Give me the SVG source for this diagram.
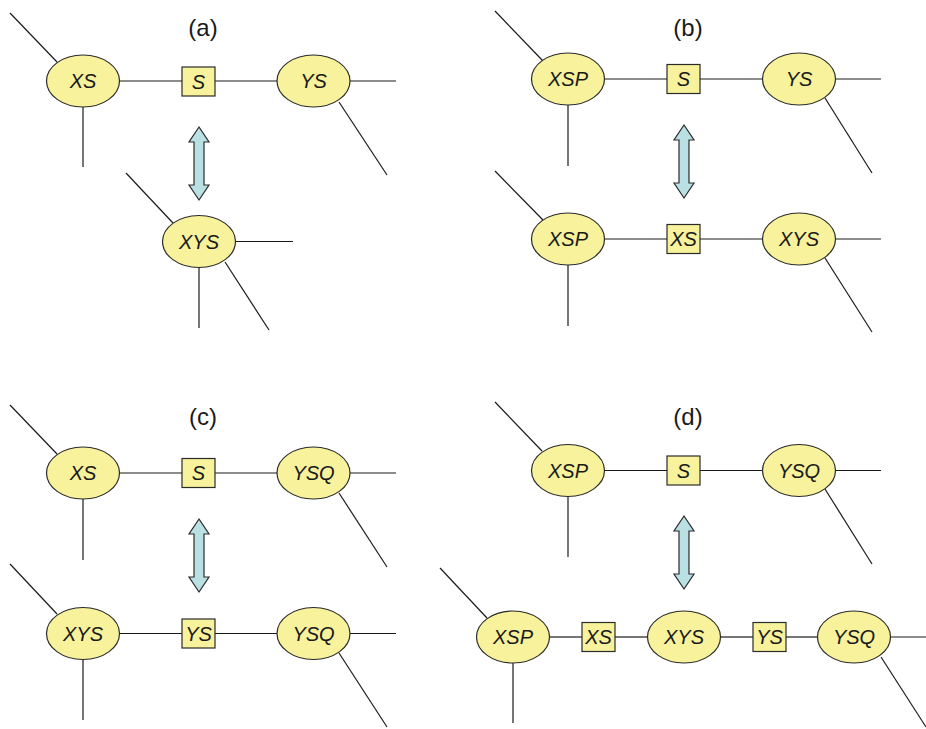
<svg xmlns="http://www.w3.org/2000/svg" xmlns:xlink="http://www.w3.org/1999/xlink" width="926" height="729" viewBox="0 0 926 729">
<style>
.e{fill:#F7F29B;stroke:#2a2a2a;stroke-width:1.2}
.b{fill:#F7F29B;stroke:#2a2a2a;stroke-width:1.2}
.t{font-family:"Liberation Sans",Arial,sans-serif;font-style:italic;font-size:20px;fill:#1a1a1a;text-anchor:middle}
.lbl{font-family:"Liberation Sans",Arial,sans-serif;font-size:24px;fill:#1a1a1a;text-anchor:middle}
.c line{stroke:#1a1a1a;stroke-width:1.2}
.arr{fill:#B9E0E2;stroke:#2a2a2a;stroke-width:1.2;stroke-linejoin:miter}
</style>
<defs>
<path id="dbl" d="M0,0 L10,15 L5,15 L5,58 L10,58 L0,73 L-10,58 L-5,58 L-5,15 L-10,15 Z"/>
</defs>
<rect width="926" height="729" fill="#fff"/>

<g id="connectors" class="c">
<!-- (a) -->
<line x1="10" y1="13" x2="57" y2="62"/>
<line x1="83" y1="107" x2="83" y2="167"/>
<line x1="119" y1="81" x2="182" y2="81"/>
<line x1="215" y1="81" x2="277" y2="81"/>
<line x1="350" y1="81" x2="396" y2="81"/>
<line x1="339" y1="102" x2="387" y2="175"/>
<line x1="126" y1="173" x2="173" y2="223"/>
<line x1="235" y1="241.5" x2="293" y2="241.5"/>
<line x1="199" y1="267" x2="199" y2="328"/>
<line x1="225" y1="262" x2="269" y2="330"/>
<!-- (b) -->
<line x1="495" y1="11" x2="543" y2="61"/>
<line x1="568" y1="105" x2="568" y2="166"/>
<line x1="605" y1="79" x2="667" y2="79"/>
<line x1="700" y1="79" x2="763" y2="79"/>
<line x1="835" y1="79" x2="881" y2="79"/>
<line x1="825" y1="98" x2="872" y2="173"/>
<line x1="495" y1="171" x2="543" y2="220"/>
<line x1="568" y1="265" x2="568" y2="326"/>
<line x1="605" y1="239" x2="667" y2="239"/>
<line x1="700" y1="239" x2="763" y2="239"/>
<line x1="835" y1="239" x2="881" y2="239"/>
<line x1="825" y1="258" x2="872" y2="332"/>
<!-- (c) -->
<line x1="10" y1="405" x2="57" y2="454"/>
<line x1="83" y1="499" x2="83" y2="560"/>
<line x1="119" y1="473" x2="182" y2="473"/>
<line x1="215" y1="473" x2="277" y2="473"/>
<line x1="350" y1="473" x2="396" y2="473"/>
<line x1="339" y1="493" x2="387" y2="567"/>
<line x1="10" y1="564" x2="57" y2="614"/>
<line x1="83" y1="659" x2="83" y2="720"/>
<line x1="119" y1="633.5" x2="182" y2="633.5"/>
<line x1="215" y1="633.5" x2="277" y2="633.5"/>
<line x1="350" y1="633.5" x2="396" y2="633.5"/>
<line x1="339" y1="653" x2="387" y2="727"/>
<!-- (d) -->
<line x1="495" y1="402" x2="542" y2="451"/>
<line x1="568" y1="497" x2="568" y2="557"/>
<line x1="605" y1="470.5" x2="667" y2="470.5"/>
<line x1="700" y1="470.5" x2="762" y2="470.5"/>
<line x1="835" y1="470.5" x2="881" y2="470.5"/>
<line x1="825" y1="489" x2="872" y2="564"/>
<line x1="440" y1="568" x2="487" y2="618"/>
<line x1="513" y1="663" x2="513" y2="723"/>
<line x1="550" y1="637" x2="582" y2="637"/>
<line x1="615" y1="637" x2="647" y2="637"/>
<line x1="721" y1="637" x2="753" y2="637"/>
<line x1="786" y1="637" x2="818" y2="637"/>
<line x1="890" y1="637" x2="926" y2="637"/>
<line x1="881" y1="657" x2="926" y2="727"/>
</g>

<g id="arrows">
<use xlink:href="#dbl" href="#dbl" class="arr" transform="translate(199,127)"/>
<use xlink:href="#dbl" href="#dbl" class="arr" transform="translate(684,125)"/>
<use xlink:href="#dbl" href="#dbl" class="arr" transform="translate(199,519)"/>
<use xlink:href="#dbl" href="#dbl" class="arr" transform="translate(684,516)"/>
</g>

<g id="labels">
<text class="lbl" x="203" y="36">(a)</text>
<text class="lbl" x="688" y="36">(b)</text>
<text class="lbl" x="203" y="425">(c)</text>
<text class="lbl" x="688" y="425">(d)</text>
</g>

<!-- (a) nodes -->
<g id="a-XS"><ellipse class="e" cx="83" cy="81" rx="36.5" ry="26"/><text class="t" x="83" y="88">XS</text></g>
<g id="a-S"><rect class="b" x="182" y="67" width="33" height="29"/><text class="t" x="198.5" y="88.5">S</text></g>
<g id="a-YS"><ellipse class="e" cx="313.5" cy="81" rx="36.5" ry="26"/><text class="t" x="313.5" y="88">YS</text></g>
<g id="a-XYS"><ellipse class="e" cx="199" cy="241.5" rx="36.5" ry="26"/><text class="t" x="199" y="248.5">XYS</text></g>

<!-- (b) nodes -->
<g id="b-XSP1"><ellipse class="e" cx="568" cy="79" rx="36.5" ry="26"/><text class="t" x="568" y="86">XSP</text></g>
<g id="b-S"><rect class="b" x="667" y="64.5" width="33" height="29"/><text class="t" x="683.5" y="86">S</text></g>
<g id="b-YS"><ellipse class="e" cx="799" cy="79" rx="36.5" ry="26"/><text class="t" x="799" y="86">YS</text></g>
<g id="b-XSP2"><ellipse class="e" cx="568" cy="239" rx="36.5" ry="26"/><text class="t" x="568" y="246">XSP</text></g>
<g id="b-XS"><rect class="b" x="667" y="224.5" width="33" height="29"/><text class="t" x="683.5" y="246">XS</text></g>
<g id="b-XYS"><ellipse class="e" cx="799" cy="239" rx="36.5" ry="26"/><text class="t" x="799" y="246">XYS</text></g>

<!-- (c) nodes -->
<g id="c-XS"><ellipse class="e" cx="83" cy="473" rx="36.5" ry="26"/><text class="t" x="83" y="480">XS</text></g>
<g id="c-S"><rect class="b" x="182" y="458.5" width="33" height="29"/><text class="t" x="198.5" y="480">S</text></g>
<g id="c-YSQ1"><ellipse class="e" cx="313.5" cy="473" rx="36.5" ry="26"/><text class="t" x="313.5" y="480">YSQ</text></g>
<g id="c-XYS"><ellipse class="e" cx="83" cy="633.5" rx="36.5" ry="26"/><text class="t" x="83" y="640.5">XYS</text></g>
<g id="c-YS"><rect class="b" x="182" y="619" width="33" height="29"/><text class="t" x="198.5" y="640.5">YS</text></g>
<g id="c-YSQ2"><ellipse class="e" cx="313.5" cy="633.5" rx="36.5" ry="26"/><text class="t" x="313.5" y="640.5">YSQ</text></g>

<!-- (d) nodes -->
<g id="d-XSP1"><ellipse class="e" cx="568" cy="470.5" rx="36.5" ry="26"/><text class="t" x="568" y="477.5">XSP</text></g>
<g id="d-S"><rect class="b" x="667" y="456" width="33" height="29"/><text class="t" x="683.5" y="477.5">S</text></g>
<g id="d-YSQ1"><ellipse class="e" cx="799" cy="470.5" rx="36.5" ry="26"/><text class="t" x="799" y="477.5">YSQ</text></g>
<g id="d-XSP2"><ellipse class="e" cx="513" cy="637" rx="36.5" ry="26"/><text class="t" x="513" y="644">XSP</text></g>
<g id="d-XS"><rect class="b" x="582" y="622.5" width="33" height="29"/><text class="t" x="598.5" y="644">XS</text></g>
<g id="d-XYS"><ellipse class="e" cx="684" cy="637" rx="36.5" ry="26"/><text class="t" x="684" y="644">XYS</text></g>
<g id="d-YS"><rect class="b" x="753" y="622.5" width="33" height="29"/><text class="t" x="769.5" y="644">YS</text></g>
<g id="d-YSQ2"><ellipse class="e" cx="854" cy="637" rx="36.5" ry="26"/><text class="t" x="854" y="644">YSQ</text></g>
</svg>
